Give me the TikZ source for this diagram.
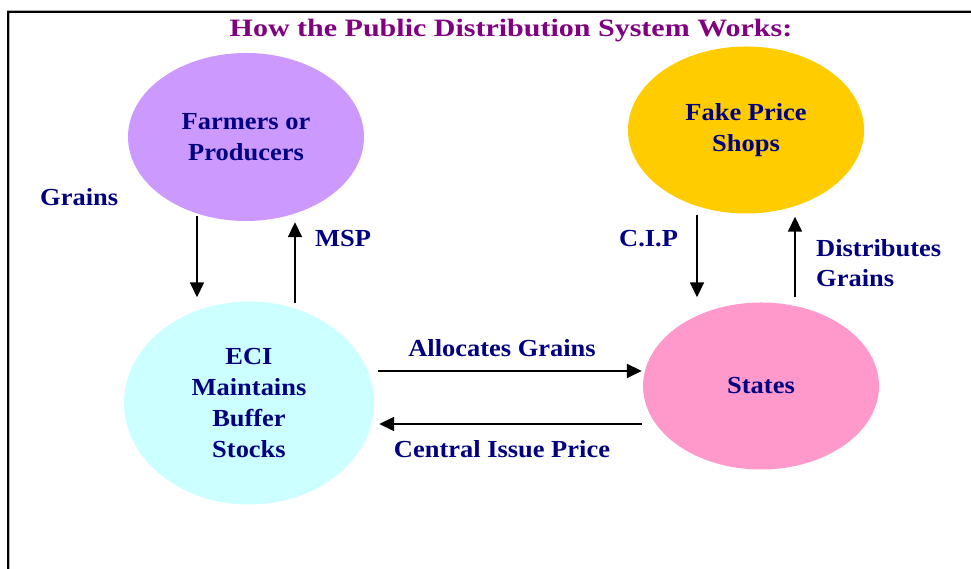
\documentclass[tikz,border=0pt]{standalone}
\usepackage{fontspec}
\setmainfont{Liberation Serif}[FakeStretch=1.08]
\newfontfamily\titlefont{Liberation Serif}[FakeStretch=1.2]
\usetikzlibrary{shapes.geometric,arrows.meta}
\definecolor{ttl}{HTML}{800080}
\definecolor{navy}{HTML}{000080}
\definecolor{farmc}{HTML}{CC99FF}
\definecolor{fakec}{HTML}{FFCC00}
\definecolor{ecic}{HTML}{CCFFFF}
\definecolor{statec}{HTML}{FF99CC}
\tikzset{
  blob/.style={ellipse, draw=none, inner sep=0pt, align=center, text=navy,
    font=\bfseries\fontsize{24.5}{31}\selectfont},
  lbl/.style={text=navy, inner sep=0pt, align=left, font=\bfseries\fontsize{24.5}{30}\selectfont},
  arr/.style={line width=1.7pt, -{Triangle[width=14pt,length=15pt]}}
}
\begin{document}
\begin{tikzpicture}[x=1pt,y=1pt]
\useasboundingbox (0,0) rectangle (971,569);
\fill[white] (0,0) rectangle (971,569);
% frame
\draw[gray!60, line width=3pt] (8,-5) -- (8,557) -- (980,557);
\draw[black, line width=1.6pt] (8,-5) -- (8,557) -- (980,557);
% title
\node[text=ttl, inner sep=0pt, font=\titlefont\bfseries\fontsize{25}{30}\selectfont] (title) at (511,538) {How the Public Distribution System Works:};
% ellipses
\node[blob, fill=farmc, minimum width=236pt, minimum height=168pt] (farm) at (246,432) {Farmers or\\Producers};
\node[blob, fill=fakec, minimum width=236pt, minimum height=167pt] (fake) at (746,439) {Fake Price\\Shops};
\node[blob, fill=ecic, minimum width=250pt, minimum height=203pt] (eci) at (249,166) {ECI\\Maintains\\Buffer\\Stocks};
\node[blob, fill=statec, minimum width=236pt, minimum height=167pt] (states) at (761,183) {States};
% labels
\node[lbl, anchor=west] (lgrains) at (40,372) {Grains};
\node[lbl, anchor=west] (lmsp) at (315,330) {MSP};
\node[lbl, anchor=west] (lcip) at (619,330) {C.I.P};
\node[lbl, anchor=west] (ldist) at (816,306) {Distributes\\Grains};
\node[lbl] (lalloc) at (502,221) {Allocates Grains};
\node[lbl] (lcentral) at (502,120) {Central Issue Price};
% arrows
\draw[arr] ([xshift=-49pt,yshift=5pt]farm.south) -- ([xshift=-52pt,yshift=4pt]eci.north);
\draw[arr] ([xshift=46pt,yshift=-2pt]eci.north) -- ([xshift=49pt,yshift=-1pt]farm.south);
\draw[arr] ([xshift=4pt,yshift=32pt]eci.east) -- ([xshift=-1pt,yshift=15pt]states.west);
\draw[arr] ([xshift=-1pt,yshift=-38pt]states.west) -- ([xshift=5pt,yshift=-21pt]eci.east);
\draw[arr] ([xshift=-49pt,yshift=-1pt]fake.south) -- ([xshift=-64pt,yshift=5pt]states.north);
\draw[arr] ([xshift=34pt,yshift=5pt]states.north) -- ([xshift=49pt,yshift=-3pt]fake.south);
\end{tikzpicture}
\end{document}
